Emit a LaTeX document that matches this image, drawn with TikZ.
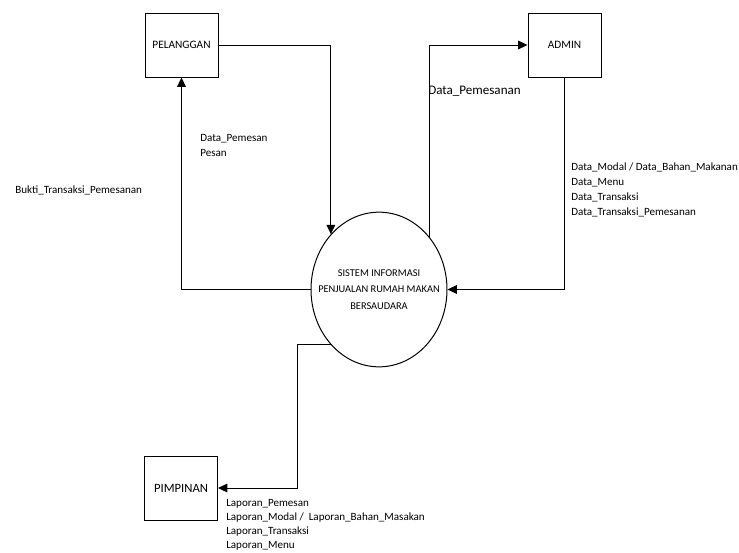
\documentclass[tikz,border=0pt]{standalone}
\usepackage{fontspec}
\setmainfont{Carlito}
\usetikzlibrary{shapes.geometric,arrows.meta}

\tikzset{
  entity/.style={draw, line width=0.75pt, minimum width=54.75pt, minimum height=48pt, inner sep=0pt, font=\fontsize{8.5}{10}\selectfont},
  proses/.style={draw, ellipse, line width=0.75pt, minimum width=102pt, minimum height=116pt, inner sep=0pt},
  flow/.style={line width=0.75pt, -{Triangle[length=7pt,width=6.5pt]}},
  lbl/.style={anchor=west, inner sep=0pt, align=left, font=\fontsize{8.3}{11.25}\selectfont}
}

\begin{document}
\begin{tikzpicture}[x=0.75pt,y=0.75pt,yscale=-1,xscale=1]
\useasboundingbox (0,0) rectangle (739,553);
\clip (0,0) rectangle (739,553);

% Entitas luar
\node [entity] (pel) at (181.5,45) {PELANGGAN};
\node [entity] (adm) at (564.5,45) {ADMIN};
\node [entity, font=\fontsize{9.5}{11}\selectfont] (pim) at (181,488) {PIMPINAN};

% Proses utama
\node [proses] (sys) at (379,289.5) {};
\node [align=center, inner sep=0pt, font=\fontsize{7.8}{12.4}\selectfont] (systxt) at (sys.center) {SISTEM INFORMASI\\PENJUALAN RUMAH MAKAN\\BERSAUDARA};

% Aliran data
\draw [flow] (pel.east) -| (sys.131);
\draw [flow] (sys.west) -| (pel.south);
\draw [flow] (sys.46) |- (adm.west);
\draw [flow] (adm.south) |- (sys.east);
\draw [flow] (sys.229) -- ++(-33,0) |- (pim.east);

% Label aliran
\node [lbl] (lblpesan) at (200,145.5) {Data\_Pemesan\\Pesan};
\node [lbl] (lblbukti) at (15,190) {Bukti\_Transaksi\_Pemesanan};
\node [lbl, font=\fontsize{9.8}{12}\selectfont] (lblpemesanan) at (428,91) {Data\_Pemesanan};
\node [lbl] (lbladmin) at (571,189.5) {Data\_Modal / Data\_Bahan\_Makanan\\Data\_Menu\\Data\_Transaksi\\Data\_Transaksi\_Pemesanan};
\node [lbl, font=\fontsize{8.3}{10.5}\selectfont] (lbllaporan) at (226,525) {Laporan\_Pemesan\\Laporan\_Modal /\ \ Laporan\_Bahan\_Masakan\\Laporan\_Transaksi\\Laporan\_Menu};

\end{tikzpicture}
\end{document}
